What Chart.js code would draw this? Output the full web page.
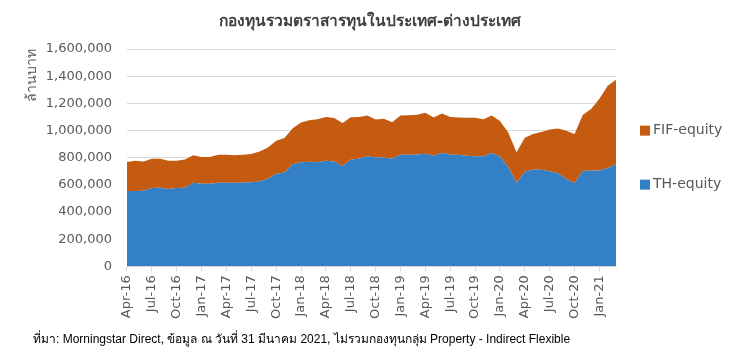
<!DOCTYPE html>
<html>
<head>
<meta charset="utf-8">
<script src="https://cdn.jsdelivr.net/npm/chart.js@4.4.1/dist/chart.umd.min.js"></script>
<style>
  body { margin: 0; background: #fff; }
  #wrap { position: relative; width: 735px; height: 353px; }
  #title { position: absolute; left: 0; width: 740px; top: 8px; text-align: center;
           font: bold 15.5px Tahoma, 'DejaVu Sans', sans-serif; color: #404040; }
  #note { position: absolute; left: 33px; top: 329px;
          font: 12px 'Liberation Sans', Arial, sans-serif; color: #000; }
</style>
</head>
<body>
<div id="wrap">
  <canvas id="myChart" width="735" height="353"></canvas>
  <div id="title">กองทุนรวมตราสารทุนในประเทศ-ต่างประเทศ</div>
  <div id="note">ที่มา: Morningstar Direct, ข้อมูล ณ วันที่ 31 มีนาคม 2021, ไม่รวมกองทุนกลุ่ม Property - Indirect Flexible</div>
</div>
<script>
// monthly, Apr-16 .. Mar-21 (values in baht, ล้านบาท)
let monthNames = ['Jan', 'Feb', 'Mar', 'Apr', 'May', 'Jun', 'Jul', 'Aug', 'Sep', 'Oct', 'Nov', 'Dec'];
let months = [];
for (let y = 16; y <= 21; y++) {
    monthNames.forEach((m, i) => {
        if ((y === 16 && i < 3) || (y === 21 && i > 2)) return;
        months.push(m + '-' + y);
    });
}

let thEquity = [554, 554, 556, 576, 578, 569, 576, 578, 615, 608, 608, 615,
    615, 615, 615, 618, 625, 645, 681, 691, 752, 767, 770, 767,
    777, 771, 738, 784, 794, 811, 801, 801, 792, 821, 821, 824,
    828, 814, 836, 821, 821, 814, 811, 811, 836, 808, 732, 613,
    696, 712, 711, 699, 686, 642, 613, 703, 703, 706, 723, 750].map(v => v * 1000);

let fifEquity = [213, 223, 216, 216, 214, 208, 201, 209, 203, 196, 196, 206,
    206, 203, 206, 208, 221, 230, 243, 253, 265, 292, 306, 316,
    323, 321, 317, 313, 306, 300, 280, 285, 269, 289, 292, 291,
    302, 282, 289, 279, 275, 279, 282, 272, 274, 262, 253, 227,
    250, 263, 277, 308, 329, 356, 362, 412, 456, 527, 606, 623].map(v => v * 1000);

let yTicks = [0, 200000, 400000, 600000, 800000, 1000000, 1200000, 1400000, 1600000];

let font = "Tahoma, 'DejaVu Sans', sans-serif";

// legend drawn beside the plot, top entry = top series
let sideLegend = {
    id: 'sideLegend',
    afterDraw(chart) {
        let c = chart.ctx;
        let area = chart.chartArea;
        let mid = (area.top + area.bottom) / 2;
        let sets = chart.data.datasets.slice().reverse();
        c.save();
        c.font = '14px ' + font;
        c.textBaseline = 'middle';
        sets.forEach((ds, i) => {
            let y = mid - 27 + i * 54;
            let x = area.right + 24;
            c.fillStyle = ds.backgroundColor;
            c.fillRect(x, y - 5, 10, 10);
            c.fillStyle = '#595959';
            c.fillText(ds.label, x + 13, y);
        });
        c.restore();
    }
};

let ctx = document.getElementById('myChart').getContext('2d');

let myChart = new Chart(ctx, {
    type: 'line',
    data: {
        labels: months,
        datasets: [{
            label: 'TH-equity',
            data: thEquity,
            backgroundColor: '#3380C6',
            borderWidth: 0,
            pointRadius: 0,
            fill: 'origin',
            tension: 0
        },
        {
            label: 'FIF-equity',
            data: fifEquity,
            backgroundColor: '#C55A11',
            borderWidth: 0,
            pointRadius: 0,
            fill: '-1',
            tension: 0
        }]
    },
    plugins: [sideLegend],
    options: {
        responsive: false,
        animation: false,
        layout: { padding: { top: 49, left: 24, right: 119, bottom: 30 } },
        plugins: {
            tooltip: { enabled: false },
            legend: { display: false }
        },
        scales: {
            x: {
                grid: {
                    drawOnChartArea: false,
                    tickLength: 5,
                    color: c => c.index % 3 === 0 ? '#d9d9d9' : 'rgba(0,0,0,0)'
                },
                border: { color: '#d9d9d9' },
                ticks: {
                    autoSkip: false,
                    maxRotation: 90,
                    minRotation: 90,
                    padding: 4,
                    color: '#595959',
                    font: { family: font, size: 13 },
                    callback: (v, i) => i % 3 === 0 ? months[i] : ''
                }
            },
            y: {
                stacked: true,
                min: 0,
                max: 1600000,
                afterBuildTicks: axis => { axis.ticks = yTicks.map(v => ({ value: v })); },
                grid: { color: '#d9d9d9', drawTicks: false },
                border: { display: false },
                ticks: {
                    padding: 15,
                    color: '#595959',
                    font: { family: font, size: 13 },
                    callback: v => v.toLocaleString('en-US')
                },
                title: {
                    display: true,
                    text: 'ล้านบาท',
                    align: 'end',
                    color: '#595959',
                    font: { family: font, size: 14 },
                    padding: { top: 0, bottom: -10 }
                }
            }
        }
    }
});
</script>
</body>
</html>
